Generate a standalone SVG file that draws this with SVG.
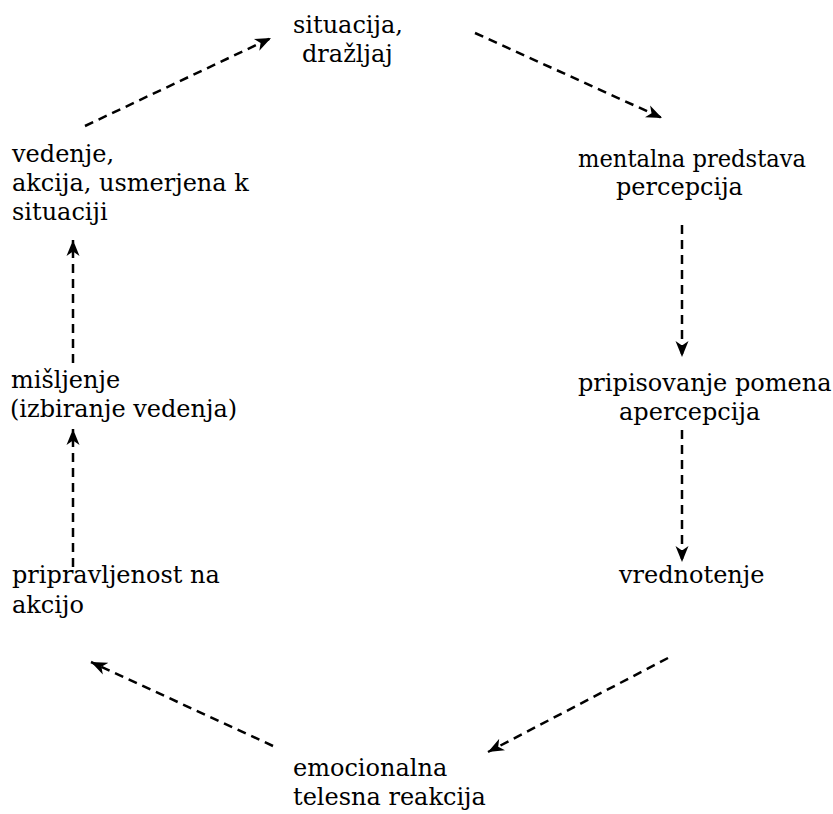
<svg xmlns="http://www.w3.org/2000/svg" width="833" height="814" viewBox="0 0 833 814">
<defs>
<marker id="ah" markerUnits="userSpaceOnUse" markerWidth="18" markerHeight="14" refX="16" refY="7" orient="auto">
<path d="M0,0.5 L16,7 L0,13.5 L4.5,7 z" fill="#000"/>
</marker>
<style>
text{font-family:"DejaVu Serif","Liberation Serif",serif;font-size:24px;fill:#000}
.c{fill:none;stroke:#000;stroke-width:2.5;stroke-dasharray:9 6;marker-end:url(#ah)}
</style>
</defs>
<rect width="833" height="814" fill="#fff"/>
<g id="connectors">
<path class="c" d="M85,126 L271,38"/>
<path class="c" d="M475,33 L662,118"/>
<path class="c" d="M682,225 L682,357"/>
<path class="c" d="M682,430 L682,562"/>
<path class="c" d="M668,658 L488,752"/>
<path class="c" d="M273,746 L91,662"/>
<path class="c" d="M73,567 L73,429"/>
<path class="c" d="M73,363 L73,240"/>
</g>
<g id="n1"><text x="293" y="33">situacija,</text><text x="302" y="62">dražljaj</text></g>
<g id="n2"><text x="578" y="167" textLength="228" lengthAdjust="spacingAndGlyphs">mentalna predstava</text><text x="616" y="195">percepcija</text></g>
<g id="n3"><text x="578" y="391">pripisovanje pomena</text><text x="619" y="420">apercepcija</text></g>
<g id="n4"><text x="619" y="583">vrednotenje</text></g>
<g id="n5"><text x="293" y="776">emocionalna</text><text x="293" y="805">telesna reakcija</text></g>
<g id="n6"><text x="12" y="583">pripravljenost na</text><text x="12" y="613">akcijo</text></g>
<g id="n7"><text x="11" y="388">mišljenje</text><text x="10" y="417">(izbiranje vedenja)</text></g>
<g id="n8"><text x="12" y="162">vedenje,</text><text x="12" y="191">akcija, usmerjena k</text><text x="12" y="220">situaciji</text></g>
</svg>
